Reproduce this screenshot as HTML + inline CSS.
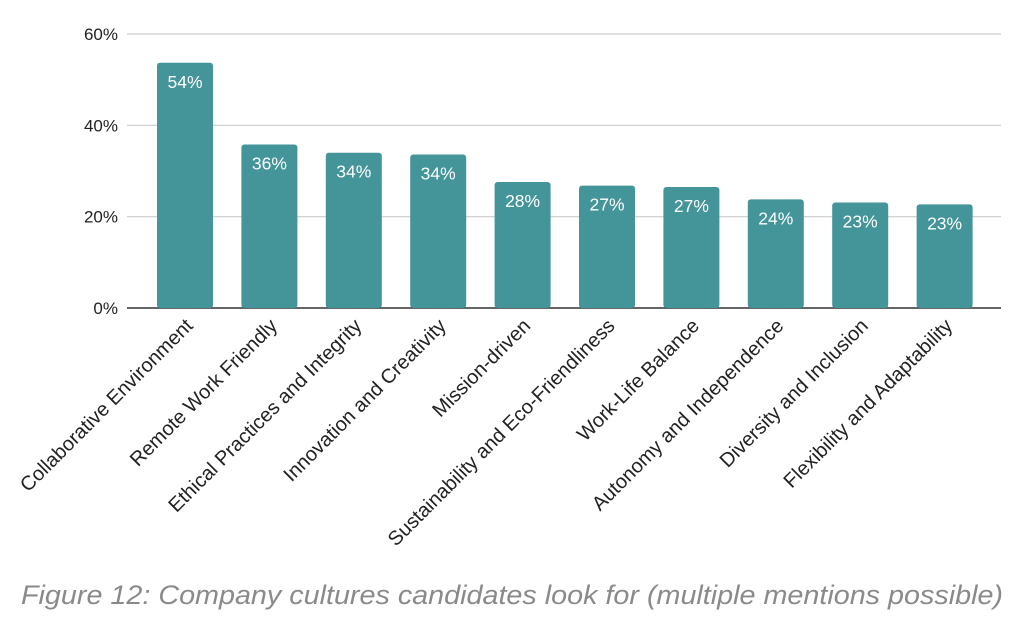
<!DOCTYPE html>
<html><head><meta charset="utf-8"><style>
body{margin:0;background:#fff;width:1024px;height:628px;overflow:hidden;font-family:"Liberation Sans",sans-serif}
</style></head><body>
<svg id="chart" width="1024" height="628" viewBox="0 0 1024 628" xmlns="http://www.w3.org/2000/svg"></svg>
<script>
const categories=["Collaborative Environment","Remote Work Friendly","Ethical Practices and Integrity","Innovation and Creativity","Mission-driven","Sustainability and Eco-Friendliness","Work-Life Balance","Autonomy and Independence","Diversity and Inclusion","Flexibility and Adaptability"];
const values=[53.7,35.8,34.0,33.6,27.6,26.8,26.5,23.8,23.1,22.7];
const valueLabels=["54%","36%","34%","34%","28%","27%","27%","24%","23%","23%"];
const yTicks=[0,20,40,60];
const yTickLabels=["0%","20%","40%","60%"];

const svg=document.getElementById('chart');
const NS='http://www.w3.org/2000/svg';
const x0=127,x1=1001,y0=308,yTop=34,yMax=60;
const y=v=>y0-(v/yMax)*(y0-yTop);
const step=84.4;
const xc=i=>185+step*i;
const bw=56;
function mk(tag,attrs){const e=document.createElementNS(NS,tag);for(const k in attrs)e.setAttribute(k,attrs[k]);svg.appendChild(e);return e;}

yTicks.forEach((t,i)=>{
  const g=mk('line',{x1:x0,x2:x1,y1:y(t),y2:y(t),stroke:t===0?'#333':'#cccccc','stroke-width':t===0?1.5:1.2});
  
  
  const l=mk('text',{x:118,y:y(t)+6,'text-anchor':'end','font-size':17,fill:'#222'});
  l.textContent=yTickLabels[i];
  
  
});

categories.forEach((c,i)=>{
  const cx=xc(i),top=y(values[i]);
  const b=mk('rect',{x:cx-bw/2,y:top,width:bw,height:y0-top,rx:3,fill:'#43959a'});
  
  
  const v=mk('text',{x:cx,y:top+25,'text-anchor':'middle','font-size':17.5,fill:'#fff'});
  v.textContent=valueLabels[i];
  
  
  const t=mk('text',{x:0,y:0,'text-anchor':'end','font-size':20,fill:'#222',transform:`translate(${cx+9},${y0+19}) rotate(-45)`});
  t.textContent=c;
  
  
});

const cap=mk('text',{x:512,y:604,'text-anchor':'middle','font-size':27,'font-style':'italic',fill:'#8a8a8a',textLength:982,lengthAdjust:'spacingAndGlyphs'});
cap.textContent="Figure 12: Company cultures candidates look for (multiple mentions possible)";


</script>
</body></html>
